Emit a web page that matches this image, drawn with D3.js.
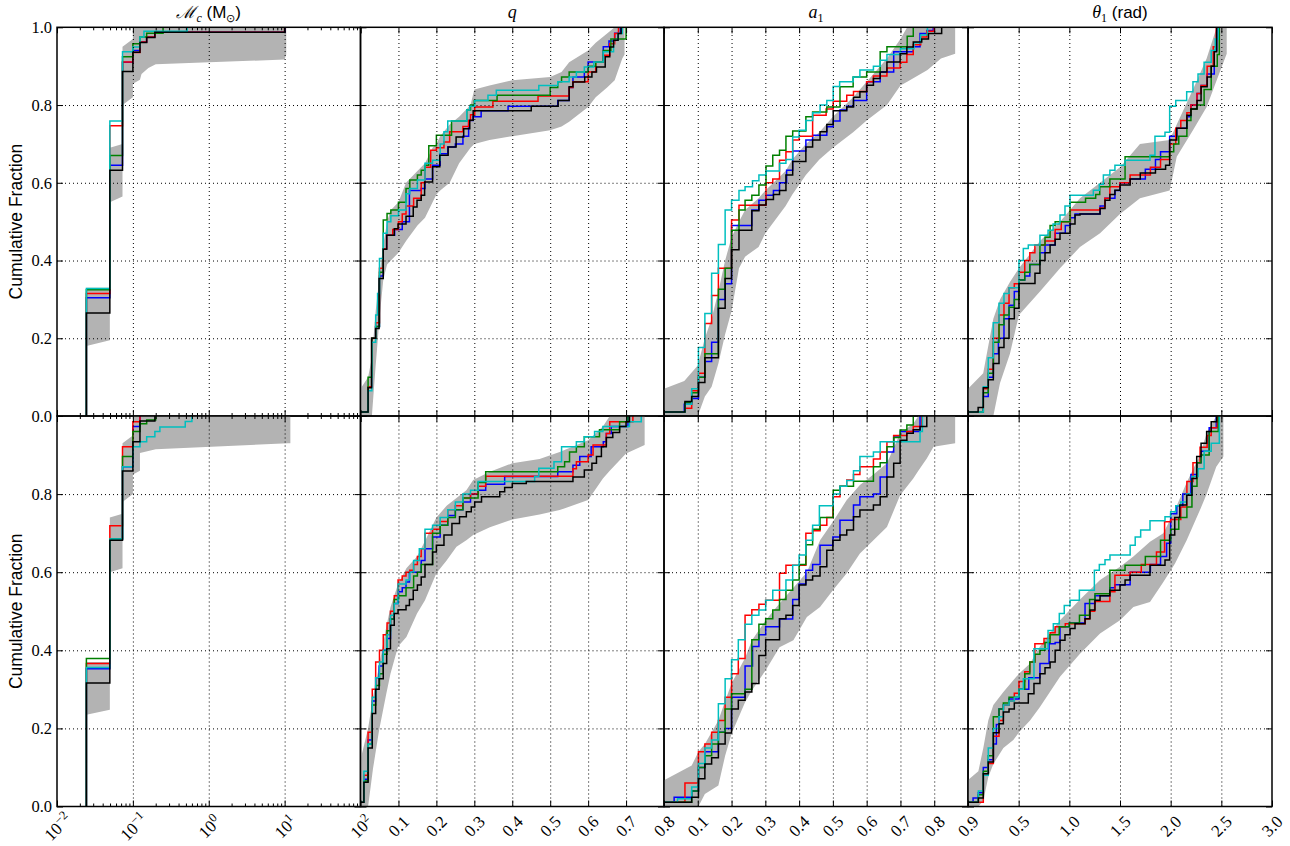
<!DOCTYPE html>
<html>
<head>
<meta charset="utf-8">
<script src="https://cdn.jsdelivr.net/npm/d3@7"></script>
<style>
  body { margin: 0; background: #fff; }
  svg { display: block; }
  .grid .tick line { stroke: #000; stroke-width: 1; stroke-dasharray: 1,3; }
  .ticks .tick line { stroke: #000; stroke-width: 1; }
  .ticks .domain, .grid .domain { display: none; }
</style>
</head>
<body>
<svg id="chart" width="1290" height="846"></svg>
<script>
// ---- data: each series is a list of [x, cumulative fraction] step points,
// each band is a list of [x, lower, upper]

// chirp mass, top row
const mcTopBlack = [[0.0244,0],[0.0244,0.265],[0.0497,0.632],[0.073,0.886],[0.1,0.936],[0.124,0.961],[0.152,0.974],[0.195,0.987],[10,1]];
const mcTopBlue = [[0.0244,0],[0.0244,0.304],[0.0497,0.645],[0.073,0.91],[0.1,0.94],[0.124,0.962],[0.152,0.975],[0.195,0.987],[10.2,1]];
const mcTopRed = [[0.0244,0],[0.0244,0.315],[0.0497,0.747],[0.073,0.911],[0.1,0.935],[0.124,0.962],[0.152,0.975],[0.195,0.987],[10,1]];
const mcTopGreen = [[0.0244,0],[0.0244,0.325],[0.0497,0.67],[0.073,0.924],[0.1,0.958],[0.124,0.975],[0.152,0.985],[0.25,1]];
const mcTopCyan = [[0.0244,0],[0.0244,0.328],[0.0497,0.759],[0.073,0.937],[0.1,0.949],[0.124,0.975],[0.14,0.99],[0.52,1]];
const mcTopBand = [[0.0244,0.18,0.33],[0.0497,0.195,0.33],[0.0497,0.55,0.69],[0.073,0.565,0.70],[0.073,0.80,0.95],[0.1,0.82,0.97],[0.1,0.855,1],[0.124,0.865,1],[0.13,0.88,1],[0.16,0.895,1],[0.2,0.905,1],[10,0.917,1],[10.5,0.93,1]];

// chirp mass, bottom row
const mcBotBlack = [[0.0244,0],[0.0244,0.316],[0.0497,0.682],[0.073,0.859],[0.1,0.934],[0.124,0.987],[0.195,1]];
const mcBotBlue = [[0.0244,0],[0.0244,0.353],[0.0497,0.685],[0.073,0.87],[0.1,0.973],[0.124,1]];
const mcBotRed = [[0.0244,0],[0.0244,0.366],[0.0497,0.719],[0.073,0.921],[0.1,0.985],[0.124,1]];
const mcBotGreen = [[0.0244,0],[0.0244,0.379],[0.0497,0.685],[0.073,0.896],[0.1,0.96],[0.124,0.98],[0.152,0.99],[0.2,1]];
const mcBotCyan = [[0.0244,0],[0.0244,0.356],[0.0497,0.685],[0.073,0.87],[0.1,0.921],[0.124,0.934],[0.152,0.947],[0.195,0.96],[0.227,0.972],[0.49,0.986],[0.6,1]];
const mcBotBand = [[0.0244,0.235,0.37],[0.0497,0.248,0.37],[0.0497,0.60,0.74],[0.073,0.61,0.75],[0.073,0.78,0.93],[0.1,0.80,0.95],[0.1,0.85,1],[0.124,0.86,1],[0.124,0.905,1],[0.2,0.915,1],[11,0.93,1],[11.9,0.93,1]];

// mass ratio q, top row
const qTopBlack = [[0,0.01],[0.02,0.073],[0.029,0.2],[0.04,0.225],[0.049,0.354],[0.06,0.429],[0.069,0.465],[0.089,0.482],[0.099,0.494],[0.12,0.514],[0.139,0.538],[0.149,0.555],[0.16,0.568],[0.169,0.602],[0.19,0.641],[0.209,0.671],[0.231,0.692],[0.252,0.718],[0.272,0.739],[0.288,0.761],[0.297,0.785],[0.45,0.797],[0.521,0.812],[0.55,0.847],[0.56,0.859],[0.591,0.872],[0.61,0.885],[0.622,0.898],[0.645,0.924],[0.657,0.949],[0.667,0.967],[0.679,0.984],[0.687,1]];
const qTopBlue = [[0,0.01],[0.02,0.075],[0.03,0.2],[0.04,0.23],[0.05,0.36],[0.06,0.43],[0.069,0.465],[0.09,0.48],[0.11,0.5],[0.129,0.58],[0.16,0.585],[0.17,0.61],[0.19,0.645],[0.21,0.675],[0.23,0.692],[0.25,0.7],[0.27,0.72],[0.285,0.76],[0.297,0.77],[0.318,0.785],[0.389,0.797],[0.52,0.812],[0.55,0.845],[0.56,0.872],[0.59,0.885],[0.6,0.911],[0.64,0.95],[0.655,0.965],[0.67,0.985],[0.685,1]];
const qTopRed = [[0,0.01],[0.02,0.075],[0.03,0.2],[0.04,0.24],[0.05,0.38],[0.06,0.43],[0.069,0.465],[0.085,0.48],[0.1,0.5],[0.11,0.52],[0.12,0.54],[0.14,0.56],[0.16,0.6],[0.17,0.64],[0.185,0.684],[0.2,0.69],[0.22,0.705],[0.235,0.731],[0.27,0.745],[0.285,0.76],[0.29,0.775],[0.301,0.795],[0.349,0.81],[0.468,0.823],[0.55,0.845],[0.56,0.86],[0.6,0.885],[0.62,0.911],[0.64,0.928],[0.657,0.958],[0.67,0.984],[0.68,1]];
const qTopGreen = [[0,0.01],[0.02,0.1],[0.03,0.2],[0.04,0.23],[0.05,0.37],[0.06,0.504],[0.07,0.521],[0.08,0.53],[0.1,0.55],[0.12,0.585],[0.13,0.607],[0.15,0.62],[0.16,0.632],[0.17,0.645],[0.18,0.695],[0.2,0.722],[0.24,0.759],[0.28,0.787],[0.29,0.8],[0.3,0.812],[0.36,0.825],[0.5,0.845],[0.52,0.86],[0.53,0.872],[0.55,0.885],[0.6,0.9],[0.62,0.911],[0.64,0.94],[0.66,0.97],[0.7,1]];
const qTopCyan = [[0,0.01],[0.02,0.065],[0.03,0.19],[0.04,0.26],[0.045,0.315],[0.05,0.405],[0.06,0.47],[0.07,0.5],[0.08,0.515],[0.1,0.53],[0.12,0.572],[0.13,0.585],[0.15,0.607],[0.17,0.65],[0.19,0.658],[0.21,0.7],[0.22,0.731],[0.23,0.759],[0.28,0.787],[0.288,0.797],[0.301,0.812],[0.336,0.825],[0.358,0.838],[0.47,0.85],[0.52,0.86],[0.55,0.872],[0.569,0.885],[0.59,0.898],[0.615,0.911],[0.64,0.937],[0.667,0.967],[0.679,0.984],[0.69,1]];
const qTopBand = [[0,0,0.07],[0.02,0,0.1],[0.03,0,0.15],[0.04,0.13,0.27],[0.05,0.25,0.36],[0.06,0.35,0.44],[0.07,0.39,0.5],[0.08,0.40,0.53],[0.1,0.42,0.55],[0.12,0.45,0.6],[0.15,0.49,0.63],[0.17,0.51,0.65],[0.19,0.55,0.69],[0.2,0.57,0.7],[0.21,0.58,0.72],[0.235,0.6,0.75],[0.26,0.65,0.77],[0.29,0.69,0.8],[0.3,0.7,0.84],[0.34,0.71,0.85],[0.4,0.72,0.864],[0.5,0.735,0.872],[0.53,0.745,0.885],[0.55,0.757,0.91],[0.6,0.795,0.94],[0.62,0.82,0.96],[0.65,0.845,0.984],[0.67,0.864,1],[0.69,0.92,1],[0.696,0.93,1]];

// mass ratio q, bottom row
const qBotBlack = [[0,0.011],[0.009,0.062],[0.02,0.15],[0.031,0.238],[0.04,0.3],[0.049,0.327],[0.06,0.366],[0.069,0.404],[0.079,0.464],[0.089,0.494],[0.099,0.504],[0.12,0.515],[0.129,0.53],[0.139,0.554],[0.15,0.567],[0.16,0.588],[0.17,0.62],[0.19,0.652],[0.2,0.669],[0.22,0.695],[0.241,0.725],[0.261,0.742],[0.279,0.755],[0.292,0.767],[0.301,0.78],[0.319,0.793],[0.367,0.806],[0.38,0.817],[0.4,0.827],[0.437,0.832],[0.56,0.844],[0.59,0.862],[0.61,0.879],[0.622,0.896],[0.635,0.921],[0.648,0.945],[0.665,0.958],[0.683,0.973],[0.7,0.985],[0.709,1]];
const qBotBlue = [[0,0.011],[0.009,0.07],[0.02,0.17],[0.031,0.27],[0.04,0.33],[0.049,0.36],[0.06,0.4],[0.07,0.43],[0.079,0.48],[0.089,0.52],[0.099,0.55],[0.11,0.56],[0.12,0.575],[0.129,0.6],[0.16,0.63],[0.17,0.66],[0.19,0.69],[0.21,0.72],[0.23,0.745],[0.25,0.76],[0.27,0.78],[0.29,0.8],[0.31,0.81],[0.33,0.825],[0.38,0.845],[0.52,0.857],[0.56,0.874],[0.578,0.896],[0.608,0.921],[0.64,0.934],[0.648,0.955],[0.661,0.973],[0.705,1]];
const qBotRed = [[0,0.011],[0.009,0.08],[0.02,0.19],[0.031,0.3],[0.04,0.37],[0.05,0.4],[0.06,0.44],[0.07,0.47],[0.079,0.5],[0.089,0.54],[0.099,0.58],[0.11,0.59],[0.12,0.6],[0.13,0.605],[0.14,0.62],[0.15,0.64],[0.16,0.66],[0.17,0.7],[0.19,0.71],[0.21,0.73],[0.23,0.76],[0.25,0.77],[0.27,0.79],[0.29,0.8],[0.31,0.82],[0.33,0.846],[0.56,0.865],[0.569,0.883],[0.6,0.9],[0.613,0.926],[0.648,0.955],[0.657,0.985],[0.718,1]];
const qBotGreen = [[0,0.011],[0.009,0.065],[0.02,0.16],[0.031,0.26],[0.04,0.31],[0.05,0.34],[0.06,0.39],[0.07,0.45],[0.079,0.48],[0.089,0.53],[0.1,0.54],[0.12,0.56],[0.14,0.59],[0.15,0.6],[0.16,0.62],[0.19,0.7],[0.21,0.72],[0.23,0.74],[0.25,0.76],[0.27,0.79],[0.31,0.83],[0.33,0.857],[0.52,0.87],[0.538,0.883],[0.551,0.908],[0.569,0.921],[0.59,0.947],[0.63,0.965],[0.683,0.985],[0.705,1]];
const qBotCyan = [[0,0.011],[0.009,0.09],[0.02,0.16],[0.031,0.28],[0.04,0.33],[0.05,0.37],[0.06,0.4],[0.07,0.44],[0.079,0.49],[0.089,0.52],[0.099,0.57],[0.12,0.58],[0.13,0.6],[0.14,0.63],[0.155,0.66],[0.17,0.71],[0.19,0.72],[0.21,0.74],[0.23,0.76],[0.25,0.78],[0.27,0.8],[0.29,0.81],[0.31,0.832],[0.459,0.845],[0.47,0.866],[0.51,0.883],[0.53,0.921],[0.569,0.934],[0.59,0.947],[0.617,0.96],[0.639,0.973],[0.709,0.985],[0.74,1]];
const qBotBand = [[0,0,0.12],[0.02,0,0.2],[0.033,0.097,0.28],[0.049,0.195,0.36],[0.068,0.289,0.46],[0.079,0.34,0.51],[0.099,0.41,0.57],[0.121,0.434,0.61],[0.149,0.494,0.64],[0.17,0.528,0.68],[0.2,0.597,0.74],[0.227,0.63,0.77],[0.253,0.665,0.79],[0.279,0.682,0.81],[0.297,0.695,0.836],[0.341,0.715,0.857],[0.4,0.735,0.879],[0.472,0.748,0.89],[0.525,0.759,0.908],[0.6,0.785,0.938],[0.639,0.84,0.973],[0.657,0.86,1],[0.7,0.904,1],[0.749,0.926,1]];

// spin magnitude a1, top row
const aTopBlack = [[0,0.01],[0.062,0.037],[0.082,0.05],[0.102,0.086],[0.121,0.15],[0.161,0.277],[0.181,0.354],[0.2,0.428],[0.222,0.478],[0.26,0.528],[0.281,0.543],[0.302,0.557],[0.324,0.57],[0.342,0.58],[0.361,0.62],[0.381,0.655],[0.42,0.692],[0.44,0.71],[0.462,0.731],[0.482,0.75],[0.501,0.785],[0.541,0.795],[0.561,0.82],[0.58,0.834],[0.6,0.851],[0.62,0.868],[0.64,0.885],[0.66,0.911],[0.699,0.932],[0.719,0.949],[0.738,0.962],[0.763,0.97],[0.783,0.984],[0.822,1]];
const aTopBlue = [[0,0.01],[0.06,0.03],[0.082,0.045],[0.102,0.1],[0.121,0.14],[0.141,0.19],[0.161,0.3],[0.181,0.34],[0.2,0.49],[0.26,0.53],[0.281,0.555],[0.302,0.568],[0.324,0.58],[0.342,0.6],[0.363,0.632],[0.381,0.682],[0.42,0.71],[0.44,0.722],[0.482,0.744],[0.501,0.759],[0.521,0.787],[0.541,0.797],[0.561,0.812],[0.6,0.86],[0.64,0.885],[0.68,0.937],[0.738,0.95],[0.758,0.984],[0.778,0.992],[0.797,1]];
const aTopRed = [[0,0.01],[0.062,0.02],[0.082,0.065],[0.102,0.11],[0.121,0.238],[0.141,0.31],[0.161,0.38],[0.2,0.504],[0.222,0.542],[0.302,0.6],[0.322,0.61],[0.342,0.658],[0.361,0.68],[0.381,0.71],[0.4,0.72],[0.44,0.774],[0.48,0.79],[0.501,0.81],[0.541,0.825],[0.561,0.835],[0.6,0.86],[0.62,0.875],[0.66,0.895],[0.699,0.91],[0.719,0.93],[0.738,0.955],[0.76,0.975],[0.778,0.99],[0.8,1]];
const aTopGreen = [[0,0.01],[0.062,0.035],[0.082,0.06],[0.102,0.1],[0.121,0.16],[0.161,0.326],[0.181,0.38],[0.2,0.478],[0.222,0.53],[0.24,0.555],[0.26,0.568],[0.281,0.594],[0.302,0.643],[0.322,0.671],[0.342,0.684],[0.361,0.72],[0.381,0.733],[0.42,0.77],[0.44,0.782],[0.482,0.795],[0.521,0.847],[0.56,0.872],[0.6,0.885],[0.64,0.937],[0.66,0.95],[0.72,0.977],[0.738,1]];
const aTopCyan = [[0,0.01],[0.062,0.03],[0.082,0.07],[0.102,0.176],[0.121,0.264],[0.141,0.367],[0.161,0.441],[0.181,0.53],[0.2,0.555],[0.222,0.58],[0.24,0.59],[0.262,0.605],[0.281,0.62],[0.302,0.63],[0.342,0.65],[0.361,0.66],[0.381,0.718],[0.4,0.735],[0.42,0.76],[0.44,0.78],[0.462,0.8],[0.482,0.812],[0.501,0.848],[0.52,0.86],[0.56,0.872],[0.58,0.89],[0.62,0.9],[0.64,0.915],[0.66,0.93],[0.7,0.945],[0.74,0.96],[0.76,0.98],[0.78,1]];
const aTopBand = [[0,0,0.07],[0.06,0,0.09],[0.1,0,0.13],[0.121,0.05,0.2],[0.141,0.075,0.25],[0.161,0.135,0.32],[0.181,0.21,0.4],[0.2,0.27,0.46],[0.222,0.38,0.5],[0.24,0.41,0.53],[0.28,0.435,0.56],[0.3,0.47,0.58],[0.36,0.54,0.63],[0.38,0.57,0.66],[0.42,0.62,0.7],[0.46,0.66,0.73],[0.5,0.69,0.77],[0.56,0.73,0.82],[0.6,0.76,0.86],[0.66,0.8,0.92],[0.7,0.85,0.97],[0.72,0.86,1],[0.78,0.89,1],[0.82,0.92,1],[0.862,0.932,1]];

// spin magnitude a1, bottom row
const aBotBlack = [[0,0.011],[0.082,0.024],[0.102,0.071],[0.121,0.109],[0.141,0.125],[0.161,0.16],[0.181,0.188],[0.2,0.25],[0.22,0.272],[0.24,0.293],[0.26,0.315],[0.281,0.387],[0.301,0.427],[0.342,0.481],[0.361,0.49],[0.381,0.515],[0.4,0.567],[0.42,0.58],[0.44,0.59],[0.462,0.614],[0.482,0.656],[0.5,0.682],[0.521,0.695],[0.541,0.708],[0.561,0.742],[0.58,0.759],[0.62,0.772],[0.64,0.793],[0.66,0.844],[0.68,0.879],[0.699,0.938],[0.719,0.956],[0.738,0.965],[0.758,0.973],[0.778,1]];
const aBotBlue = [[0,0.011],[0.03,0.024],[0.082,0.04],[0.102,0.1],[0.121,0.14],[0.161,0.19],[0.181,0.2],[0.2,0.28],[0.24,0.36],[0.262,0.41],[0.281,0.44],[0.301,0.46],[0.342,0.48],[0.381,0.53],[0.4,0.57],[0.42,0.605],[0.44,0.62],[0.462,0.669],[0.5,0.69],[0.521,0.733],[0.561,0.772],[0.58,0.793],[0.62,0.8],[0.64,0.844],[0.66,0.908],[0.68,0.949],[0.7,0.96],[0.758,1]];
const aBotRed = [[0,0.011],[0.062,0.06],[0.102,0.14],[0.121,0.16],[0.141,0.19],[0.161,0.22],[0.181,0.28],[0.2,0.34],[0.22,0.379],[0.24,0.49],[0.26,0.504],[0.281,0.518],[0.301,0.528],[0.342,0.597],[0.361,0.618],[0.42,0.7],[0.44,0.706],[0.462,0.72],[0.482,0.74],[0.5,0.793],[0.521,0.82],[0.541,0.836],[0.561,0.85],[0.58,0.87],[0.62,0.89],[0.64,0.908],[0.66,0.934],[0.68,0.95],[0.719,0.96],[0.738,0.973],[0.763,1]];
const aBotGreen = [[0,0.011],[0.062,0.011],[0.082,0.04],[0.102,0.1],[0.121,0.13],[0.141,0.16],[0.161,0.19],[0.181,0.25],[0.2,0.289],[0.24,0.3],[0.26,0.427],[0.281,0.467],[0.301,0.481],[0.322,0.503],[0.342,0.53],[0.361,0.554],[0.381,0.58],[0.4,0.62],[0.42,0.67],[0.44,0.71],[0.462,0.74],[0.501,0.81],[0.521,0.82],[0.561,0.833],[0.62,0.87],[0.64,0.88],[0.66,0.921],[0.68,0.945],[0.699,0.964],[0.719,0.977],[0.738,1]];
const aBotCyan = [[0,0.011],[0.04,0.02],[0.082,0.05],[0.102,0.11],[0.121,0.15],[0.141,0.17],[0.161,0.263],[0.181,0.327],[0.2,0.376],[0.22,0.427],[0.24,0.467],[0.26,0.49],[0.281,0.503],[0.301,0.528],[0.322,0.554],[0.361,0.58],[0.381,0.618],[0.4,0.644],[0.42,0.682],[0.44,0.72],[0.46,0.77],[0.501,0.8],[0.521,0.82],[0.541,0.835],[0.561,0.86],[0.58,0.896],[0.62,0.908],[0.64,0.934],[0.758,0.96],[0.765,1]];
const aBotBand = [[0,0,0.067],[0.082,0,0.105],[0.102,0,0.14],[0.121,0.032,0.16],[0.161,0.054,0.22],[0.181,0.13,0.27],[0.2,0.186,0.315],[0.24,0.267,0.38],[0.26,0.297,0.425],[0.301,0.349,0.477],[0.342,0.408,0.52],[0.383,0.426,0.56],[0.423,0.485,0.6],[0.462,0.511,0.682],[0.5,0.554,0.729],[0.541,0.597,0.785],[0.58,0.648,0.823],[0.62,0.682,0.85],[0.66,0.716,0.879],[0.699,0.797,0.956],[0.738,0.84,0.98],[0.753,0.86,1],[0.778,0.891,1],[0.798,0.921,1],[0.862,0.93,1]];

// spin tilt theta1, top row
const tTopBlack = [[0,0.01],[0.1,0.022],[0.151,0.073],[0.2,0.093],[0.25,0.135],[0.306,0.176],[0.355,0.2],[0.405,0.25],[0.457,0.277],[0.503,0.341],[0.661,0.367],[0.71,0.4],[0.76,0.42],[0.81,0.44],[0.86,0.455],[0.908,0.47],[1.007,0.494],[1.056,0.517],[1.105,0.52],[1.303,0.534],[1.352,0.555],[1.4,0.57],[1.45,0.581],[1.5,0.594],[1.6,0.61],[1.7,0.625],[1.85,0.635],[1.95,0.645],[1.99,0.71],[2.06,0.74],[2.16,0.774],[2.2,0.79],[2.26,0.812],[2.3,0.847],[2.36,0.872],[2.4,0.9],[2.43,0.937],[2.454,1]];
const tTopBlue = [[0,0.01],[0.15,0.05],[0.2,0.1],[0.25,0.16],[0.3,0.2],[0.355,0.25],[0.405,0.285],[0.457,0.32],[0.503,0.35],[0.56,0.36],[0.61,0.39],[0.71,0.42],[0.76,0.44],[0.86,0.47],[0.96,0.49],[1.01,0.51],[1.056,0.52],[1.303,0.54],[1.352,0.56],[1.45,0.58],[1.5,0.6],[1.6,0.61],[1.75,0.635],[1.85,0.66],[1.9,0.68],[1.99,0.72],[2.06,0.74],[2.16,0.77],[2.2,0.8],[2.26,0.83],[2.3,0.85],[2.36,0.88],[2.43,0.94],[2.454,1]];
const tTopRed = [[0,0.01],[0.151,0.07],[0.2,0.12],[0.25,0.2],[0.306,0.26],[0.355,0.29],[0.405,0.33],[0.457,0.34],[0.503,0.37],[0.56,0.4],[0.61,0.42],[0.66,0.44],[0.76,0.45],[0.86,0.48],[0.92,0.5],[1.01,0.53],[1.3,0.535],[1.35,0.56],[1.4,0.59],[1.5,0.6],[1.6,0.62],[1.8,0.64],[1.9,0.66],[1.99,0.7],[2.05,0.74],[2.1,0.76],[2.16,0.78],[2.2,0.8],[2.26,0.83],[2.3,0.85],[2.36,0.9],[2.42,0.95],[2.45,1]];
const tTopGreen = [[0,0.01],[0.151,0.06],[0.2,0.11],[0.25,0.19],[0.306,0.235],[0.355,0.26],[0.405,0.28],[0.457,0.3],[0.503,0.35],[0.56,0.37],[0.61,0.39],[0.71,0.44],[0.76,0.46],[0.81,0.49],[0.86,0.5],[1.007,0.55],[1.16,0.56],[1.26,0.57],[1.3,0.59],[1.4,0.61],[1.55,0.667],[1.99,0.68],[2.03,0.7],[2.08,0.72],[2.16,0.76],[2.2,0.79],[2.26,0.8],[2.33,0.84],[2.4,0.9],[2.46,0.93],[2.48,1]];
const tTopCyan = [[0,0.01],[0.151,0.075],[0.2,0.15],[0.25,0.24],[0.306,0.29],[0.355,0.315],[0.405,0.33],[0.503,0.4],[0.546,0.431],[0.595,0.44],[0.71,0.465],[0.79,0.478],[0.84,0.494],[0.908,0.517],[0.957,0.54],[1.007,0.568],[1.237,0.581],[1.296,0.596],[1.336,0.62],[1.4,0.632],[1.45,0.645],[1.55,0.658],[1.796,0.671],[1.845,0.72],[1.944,0.73],[1.99,0.797],[2.05,0.812],[2.158,0.834],[2.22,0.86],[2.27,0.88],[2.33,0.91],[2.4,0.94],[2.44,0.97],[2.47,1]];
const tTopBand = [[0,0,0.07],[0.15,0,0.11],[0.25,0,0.25],[0.316,0.085,0.3],[0.414,0.16,0.345],[0.503,0.26,0.38],[0.71,0.32,0.45],[0.908,0.38,0.5],[1.105,0.435,0.56],[1.303,0.47,0.6],[1.5,0.52,0.64],[1.697,0.56,0.7],[1.99,0.58,0.71],[2.06,0.667,0.75],[2.22,0.735,0.84],[2.355,0.795,0.92],[2.454,0.864,1],[2.553,0.932,1]];

// spin tilt theta1, bottom row
const tBotBlack = [[0,0.011],[0.102,0.022],[0.151,0.084],[0.2,0.114],[0.25,0.189],[0.306,0.212],[0.349,0.242],[0.405,0.25],[0.457,0.265],[0.595,0.289],[0.651,0.315],[0.71,0.34],[0.76,0.355],[0.81,0.37],[0.86,0.4],[0.908,0.426],[0.957,0.44],[1.007,0.456],[1.056,0.468],[1.155,0.481],[1.204,0.503],[1.253,0.528],[1.303,0.54],[1.4,0.554],[1.5,0.567],[1.55,0.58],[1.6,0.592],[1.796,0.618],[1.944,0.631],[1.99,0.695],[2.04,0.74],[2.09,0.772],[2.158,0.797],[2.21,0.84],[2.257,0.896],[2.3,0.93],[2.355,0.96],[2.4,0.985],[2.454,1]];
const tBotBlue = [[0,0.011],[0.05,0.022],[0.102,0.035],[0.151,0.1],[0.2,0.12],[0.25,0.16],[0.28,0.21],[0.306,0.25],[0.349,0.26],[0.405,0.275],[0.503,0.3],[0.6,0.33],[0.71,0.366],[0.8,0.417],[0.86,0.42],[0.908,0.46],[1.0,0.47],[1.155,0.52],[1.253,0.54],[1.4,0.56],[1.45,0.568],[1.6,0.6],[1.8,0.62],[1.9,0.64],[1.96,0.674],[2.0,0.75],[2.06,0.77],[2.12,0.8],[2.2,0.85],[2.26,0.88],[2.3,0.91],[2.38,0.97],[2.45,1]];
const tBotRed = [[0,0.011],[0.151,0.08],[0.2,0.11],[0.25,0.18],[0.306,0.22],[0.349,0.26],[0.405,0.27],[0.457,0.29],[0.503,0.32],[0.56,0.345],[0.61,0.37],[0.66,0.417],[0.75,0.43],[0.81,0.445],[0.86,0.46],[0.96,0.468],[1.155,0.48],[1.2,0.5],[1.25,0.525],[1.4,0.55],[1.45,0.592],[1.6,0.6],[1.71,0.62],[1.86,0.652],[1.94,0.729],[2.0,0.735],[2.1,0.767],[2.16,0.832],[2.22,0.88],[2.29,0.92],[2.36,0.95],[2.4,0.97],[2.46,1]];
const tBotGreen = [[0,0.011],[0.102,0.03],[0.151,0.09],[0.2,0.13],[0.25,0.23],[0.306,0.25],[0.349,0.265],[0.405,0.28],[0.503,0.3],[0.56,0.34],[0.61,0.37],[0.66,0.39],[0.71,0.4],[0.76,0.42],[0.81,0.44],[0.9,0.46],[1.0,0.47],[1.1,0.49],[1.2,0.53],[1.253,0.545],[1.4,0.605],[1.55,0.618],[1.75,0.64],[1.9,0.682],[2.0,0.71],[2.08,0.74],[2.16,0.767],[2.21,0.82],[2.26,0.88],[2.3,0.9],[2.38,0.96],[2.47,1]];
const tBotCyan = [[0,0.011],[0.102,0.04],[0.151,0.08],[0.2,0.15],[0.25,0.2],[0.306,0.23],[0.349,0.26],[0.405,0.27],[0.457,0.28],[0.503,0.3],[0.546,0.327],[0.651,0.404],[0.79,0.451],[0.842,0.468],[0.901,0.494],[0.95,0.515],[1.007,0.528],[1.099,0.554],[1.247,0.605],[1.296,0.62],[1.352,0.632],[1.401,0.644],[1.6,0.669],[1.65,0.69],[1.704,0.708],[1.796,0.732],[1.944,0.742],[2.0,0.755],[2.05,0.77],[2.1,0.78],[2.158,0.8],[2.21,0.845],[2.27,0.865],[2.33,0.91],[2.4,0.93],[2.48,1]];
const tBotBand = [[0,0,0.068],[0.102,0,0.09],[0.151,0.015,0.15],[0.2,0.075,0.22],[0.25,0.109,0.26],[0.349,0.15,0.293],[0.447,0.17,0.323],[0.503,0.19,0.34],[0.612,0.22,0.366],[0.71,0.255,0.41],[0.908,0.332,0.477],[1.105,0.391,0.53],[1.303,0.443,0.58],[1.5,0.477,0.614],[1.632,0.511,0.64],[1.796,0.524,0.678],[1.928,0.575,0.7],[2.043,0.622,0.76],[2.158,0.682,0.83],[2.289,0.759,0.9],[2.355,0.8,0.956],[2.45,0.87,1],[2.52,0.896,1]];

// ticks and labels
const mcTicks = [0.01, 0.1, 1, 10, 100];
const mcTickExps = ["\u22122", "\u22121", "0", "1", "2"];
const qTicks = [0, 0.1, 0.2, 0.3, 0.4, 0.5, 0.6, 0.7, 0.8];
const aTicks = [0, 0.1, 0.2, 0.3, 0.4, 0.5, 0.6, 0.7, 0.8, 0.9];
const tTicks = [0, 0.5, 1.0, 1.5, 2.0, 2.5, 3.0];
const yTicks = [0, 0.2, 0.4, 0.6, 0.8, 1.0];
const yLabel = "Cumulative Fraction";

// ---- layout
const svg = d3.select("#chart");
const colEdges = [57, 360.5, 664, 968, 1272];
const rowEdges = [27.3, 416, 806.5];
const colors = { blue: "#0000ff", red: "#ff0000", green: "#008000", cyan: "#00bfbf", black: "#000000" };
const drawOrder = ["blue", "red", "green", "cyan", "black"];

const xScales = [
  d3.scaleLog().domain([0.01, 100]).range([colEdges[0], colEdges[1]]),
  d3.scaleLinear().domain([0, 0.8]).range([colEdges[1], colEdges[2]]),
  d3.scaleLinear().domain([0, 0.9]).range([colEdges[2], colEdges[3]]),
  d3.scaleLinear().domain([0, 3]).range([colEdges[3], colEdges[4]])
];
const yScales = [
  d3.scaleLinear().domain([0, 1]).range([rowEdges[1], rowEdges[0]]),
  d3.scaleLinear().domain([0, 1]).range([rowEdges[2], rowEdges[1]])
];
const majorTicks = [mcTicks, qTicks, aTicks, tTicks];
// minor ticks for the log axis: 2..9 times each decade
const mcMinor = [];
mcTicks.slice(0, -1).forEach(d => { for (let k = 2; k < 10; k++) mcMinor.push(d * k); });

const panels = [
  { row: 0, col: 0, band: mcTopBand, s: { black: mcTopBlack, blue: mcTopBlue, red: mcTopRed, green: mcTopGreen, cyan: mcTopCyan } },
  { row: 0, col: 1, band: qTopBand, s: { black: qTopBlack, blue: qTopBlue, red: qTopRed, green: qTopGreen, cyan: qTopCyan } },
  { row: 0, col: 2, band: aTopBand, s: { black: aTopBlack, blue: aTopBlue, red: aTopRed, green: aTopGreen, cyan: aTopCyan } },
  { row: 0, col: 3, band: tTopBand, s: { black: tTopBlack, blue: tTopBlue, red: tTopRed, green: tTopGreen, cyan: tTopCyan } },
  { row: 1, col: 0, band: mcBotBand, s: { black: mcBotBlack, blue: mcBotBlue, red: mcBotRed, green: mcBotGreen, cyan: mcBotCyan } },
  { row: 1, col: 1, band: qBotBand, s: { black: qBotBlack, blue: qBotBlue, red: qBotRed, green: qBotGreen, cyan: qBotCyan } },
  { row: 1, col: 2, band: aBotBand, s: { black: aBotBlack, blue: aBotBlue, red: aBotRed, green: aBotGreen, cyan: aBotCyan } },
  { row: 1, col: 3, band: tBotBand, s: { black: tBotBlack, blue: tBotBlue, red: tBotRed, green: tBotGreen, cyan: tBotCyan } }
];

const defs = svg.append("defs");

panels.forEach((p, i) => {
  const x = xScales[p.col], y = yScales[p.row];
  const x0 = colEdges[p.col], x1 = colEdges[p.col + 1];
  const y0 = rowEdges[p.row], y1 = rowEdges[p.row + 1];
  const w = x1 - x0, h = y1 - y0;

  defs.append("clipPath").attr("id", "clip" + i)
    .append("rect").attr("x", x0).attr("y", y0).attr("width", w).attr("height", h);

  const g = svg.append("g");
  const plot = g.append("g").attr("clip-path", `url(#clip${i})`);

  // grey band
  plot.append("path")
    .datum(p.band)
    .attr("fill", "#b3b3b3")
    .attr("d", d3.area().x(d => x(d[0])).y0(d => y(d[1])).y1(d => y(d[2])));

  // dotted grid
  const gridX = majorTicks[p.col].filter(v => x(v) > x0 + 1 && x(v) < x1 - 1);
  g.append("g").attr("class", "grid")
    .attr("transform", `translate(0,${y1})`)
    .call(d3.axisBottom(x).tickValues(gridX).tickSize(-h).tickFormat(""));
  g.append("g").attr("class", "grid")
    .attr("transform", `translate(${x0},0)`)
    .call(d3.axisLeft(y).tickValues([0.2, 0.4, 0.6, 0.8]).tickSize(-w).tickFormat(""));

  // step curves
  const line = d3.line().curve(d3.curveStepAfter).x(d => x(d[0])).y(d => y(d[1]));
  drawOrder.forEach(k => {
    plot.append("path")
      .datum(p.s[k])
      .attr("fill", "none")
      .attr("stroke", colors[k])
      .attr("stroke-width", 1.5)
      .attr("d", line);
  });

  // inward ticks on all four sides
  const tk = (axis, tx, ty, vals, size) => g.append("g").attr("class", "ticks")
    .attr("transform", `translate(${tx},${ty})`)
    .call(axis.tickValues(vals).tickSize(size).tickFormat(""));
  tk(d3.axisBottom(x), 0, y1, majorTicks[p.col], -6);
  tk(d3.axisTop(x), 0, y0, majorTicks[p.col], -6);
  if (p.col === 0) {
    tk(d3.axisBottom(x), 0, y1, mcMinor, -3);
    tk(d3.axisTop(x), 0, y0, mcMinor, -3);
  }
  tk(d3.axisLeft(y), x0, 0, yTicks, -6);
  tk(d3.axisRight(y), x1, 0, yTicks, -6);

  // frame
  g.append("rect")
    .attr("x", x0).attr("y", y0).attr("width", w).attr("height", h)
    .attr("fill", "none").attr("stroke", "#000").attr("stroke-width", 1.5);
});

// y tick labels, left column only
const serif = "'Liberation Serif', 'DejaVu Serif', serif";
const sans = "'Liberation Sans', Arial, sans-serif";
[0, 1].forEach(r => {
  const vals = r === 0 ? yTicks : yTicks.slice(0, -1);
  svg.append("g").selectAll("text")
    .data(vals)
    .join("text")
    .attr("x", 52)
    .attr("y", d => yScales[r](d))
    .attr("dy", "0.35em")
    .attr("text-anchor", "end")
    .attr("font-family", serif)
    .attr("font-size", 16.5)
    .text(d3.format(".1f"));

  svg.append("text")
    .attr("transform", `translate(16,${(rowEdges[r] + rowEdges[r + 1]) / 2}) rotate(-90)`)
    .attr("text-anchor", "middle")
    .attr("dy", "0.35em")
    .attr("font-family", sans)
    .attr("font-size", 17.5)
    .text(yLabel);
});

// x tick labels on the bottom row, rotated 45 degrees
const labelY = 826;
const xl = svg.append("g").attr("font-family", serif).attr("font-size", 17);
mcTicks.forEach((v, i) => {
  const t = xl.append("text")
    .attr("transform", `translate(${xScales[0](v) - 1},${labelY - 1}) rotate(-45)`)
    .attr("text-anchor", "middle")
    .attr("dy", "0.5em");
  t.append("tspan").text("10");
  t.append("tspan").attr("dy", "-0.5em").attr("font-size", 12.5).text(mcTickExps[i]);
});
[1, 2, 3].forEach(c => {
  const vals = majorTicks[c].slice(1);
  xl.append("g").selectAll("text")
    .data(vals)
    .join("text")
    .attr("transform", d => `translate(${xScales[c](d)},${labelY}) rotate(-45)`)
    .attr("text-anchor", "middle")
    .attr("dy", "0.35em")
    .text(d3.format(".1f"));
});

// column titles
const titleY = 18;
const t1 = svg.append("text").attr("x", (colEdges[0] + colEdges[1]) / 2).attr("y", titleY)
  .attr("text-anchor", "middle").attr("font-size", 17);
t1.append("tspan").attr("font-family", serif).attr("font-style", "italic").text("\u2133");
t1.append("tspan").attr("font-family", serif).attr("font-style", "italic").attr("font-size", 12).attr("dy", 4).text("c");
t1.append("tspan").attr("font-family", sans).attr("dy", -4).text(" (M");
t1.append("tspan").attr("font-family", sans).attr("font-size", 11).attr("dy", 4).text("\u2299");
t1.append("tspan").attr("font-family", sans).attr("dy", -4).text(")");

svg.append("text").attr("x", (colEdges[1] + colEdges[2]) / 2).attr("y", titleY)
  .attr("text-anchor", "middle").attr("font-size", 18)
  .attr("font-family", serif).attr("font-style", "italic").text("q");

const t3 = svg.append("text").attr("x", (colEdges[2] + colEdges[3]) / 2).attr("y", titleY)
  .attr("text-anchor", "middle").attr("font-size", 18).attr("font-family", serif);
t3.append("tspan").attr("font-style", "italic").text("a");
t3.append("tspan").attr("font-size", 12).attr("dy", 4).text("1");

const t4 = svg.append("text").attr("x", (colEdges[3] + colEdges[4]) / 2).attr("y", titleY)
  .attr("text-anchor", "middle").attr("font-size", 17);
t4.append("tspan").attr("font-family", serif).attr("font-style", "italic").attr("font-size", 18).text("\u03b8");
t4.append("tspan").attr("font-family", serif).attr("font-size", 12).attr("dy", 4).text("1");
t4.append("tspan").attr("font-family", sans).attr("dy", -4).text(" (rad)");
</script>
</body>
</html>
